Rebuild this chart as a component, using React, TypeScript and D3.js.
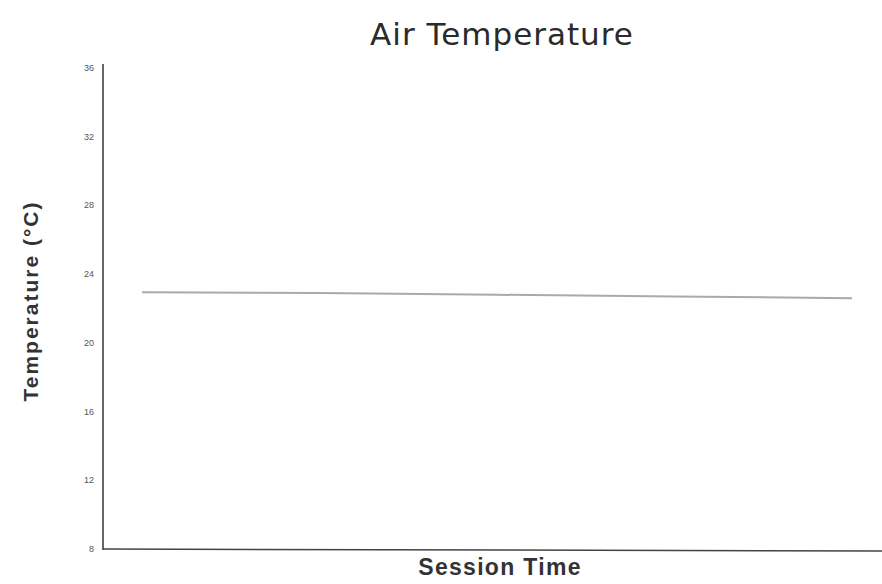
import React from "react";
import * as d3 from "d3";

const sessionTimes = [0, 1, 2, 3, 4];
const temperatures = [22.95, 22.9, 22.8, 22.7, 22.6];
const yTicks = [8, 12, 16, 20, 24, 28, 32, 36];

export default function App() {
  const W = 882, H = 584;
  const x0 = 103, x1 = 882;
  const y = d3.scaleLinear().domain([8, 36]).range([549, 68]);
  const x = d3.scaleLinear().domain([0, 4]).range([142, 852]);
  const line = d3.line<number>().x((_, i) => x(sessionTimes[i])).y((d) => y(d));
  return (
    <svg width={W} height={H} style={{ position: "absolute", left: 0, top: 0, background: "#fff" }}>
      <text x={502} y={45} textAnchor="middle" fontFamily="'DejaVu Sans', sans-serif" fontSize={31} letterSpacing={1} fill="#2a2a2a">Air Temperature</text>
      <line x1={x0} x2={x0} y1={64} y2={550} stroke="#333" strokeWidth={1.5} />
      <line x1={x0} x2={x1} y1={549} y2={551} stroke="#444" strokeWidth={1.5} />
      {yTicks.map((t) => (
        <text key={t} x={94} y={y(t) + 3} textAnchor="end" fontFamily="'Liberation Sans', Arial, sans-serif" fontSize={9} fill="#555">{t}</text>
      ))}
      <path d={line(temperatures) || ""} fill="none" stroke="#aaa" strokeWidth={2} />
      <text transform="translate(38,301) rotate(-90)" textAnchor="middle" fontFamily="'Liberation Sans', Arial, sans-serif" fontWeight="bold" fontSize={21} letterSpacing={2} fill="#333">Temperature (°C)</text>
      <text x={500} y={575} textAnchor="middle" fontFamily="'Liberation Sans', Arial, sans-serif" fontWeight="bold" fontSize={23} letterSpacing={1.3} fill="#333">Session Time</text>
    </svg>
  );
}
